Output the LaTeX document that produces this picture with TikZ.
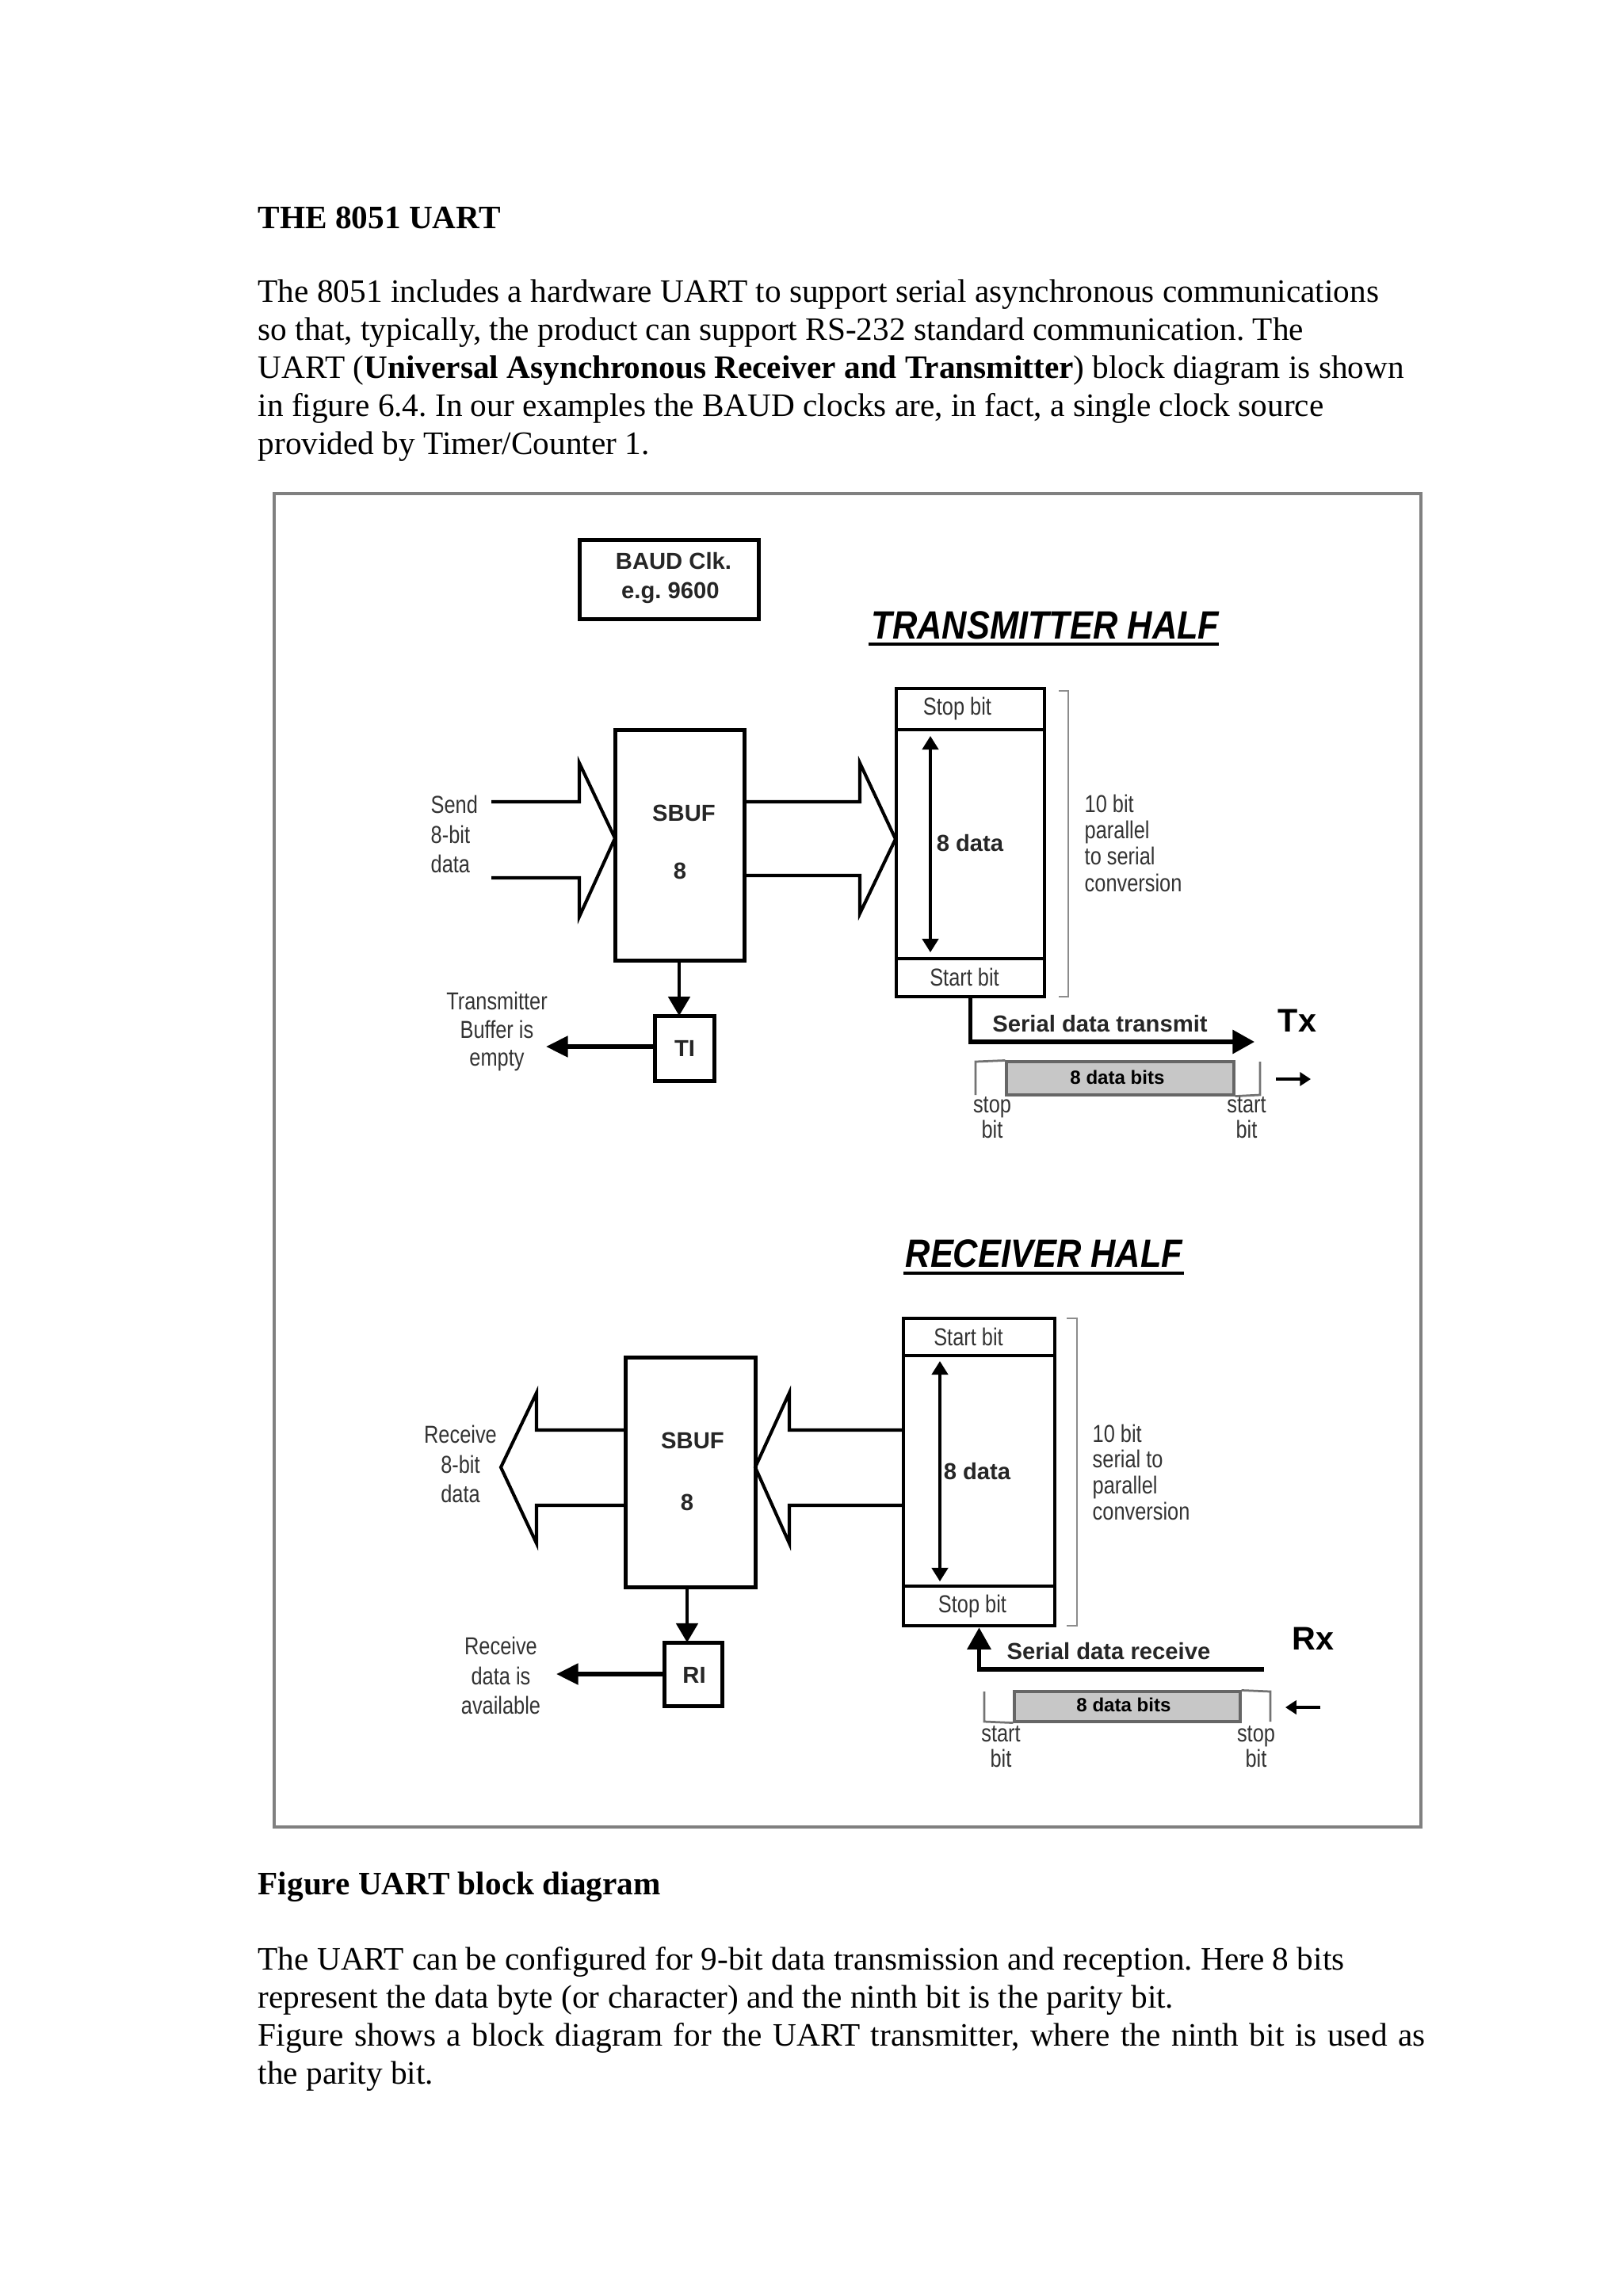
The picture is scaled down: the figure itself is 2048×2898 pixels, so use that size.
\documentclass[tikz,border=0pt]{standalone}
\usepackage{fontspec}
\setmainfont{Liberation Serif}
\newfontfamily\lblfont[FakeStretch=0.82]{Liberation Sans}
\newfontfamily\boldfont{Liberation Sans}
\newfontfamily\titlefont[FakeStretch=0.87]{Liberation Sans}
\usetikzlibrary{arrows.meta,fit}
\frenchspacing
\begin{document}
\begin{tikzpicture}[x=0.2907pt,y=-0.2907pt,
  box/.style={draw,line width=1.45pt,inner sep=0pt},
  cell/.style={draw,line width=1.3pt,inner sep=0pt},
  lbl/.style={font=\lblfont\fontsize{9}{10.6}\selectfont,text=black!80,inner sep=0pt,align=center},
  blbl/.style={font=\boldfont\bfseries\fontsize{8.5}{10}\selectfont,text=black!85,inner sep=0pt},
  ttl/.style={font=\titlefont\bfseries\itshape\fontsize{14.5}{16}\selectfont,inner sep=0pt},
  body/.style={font=\fontsize{12}{14}\selectfont,anchor=base west,inner sep=0pt},
  fat/.style={draw,line width=1.2pt,line join=miter,miter limit=20},
  sig/.style={line width=1.5pt,-{Triangle[length=8pt,width=8.5pt]}},
  flag/.style={line width=1.6pt,-{Triangle[length=8pt,width=7.5pt]}},
  down/.style={line width=1.0pt,-{Triangle[length=7pt,width=8pt]}},
  dbl/.style={line width=0.9pt,{Triangle[length=5pt,width=6pt]}-{Triangle[length=5pt,width=6pt]}},
  small/.style={line width=0.9pt,-{Triangle[length=4pt,width=5pt]}},
  brk/.style={draw=black!45,line width=0.7pt},
  bar/.style={draw=black!60,fill=black!22,line width=0.9pt,inner sep=0pt},
  wave/.style={draw=black!55,line width=0.8pt},
]
\useasboundingbox (0,0) rectangle (2048,2898);

% ---------- text above ----------
\node[body,font=\bfseries\fontsize{12}{14}\selectfont] (h1) at (325,288) {THE 8051 UART};
\node[body] (p1) at (325,381) {The 8051 includes a hardware UART to support serial asynchronous communications};
\node[body] (p2) at (325,429) {so that, typically, the product can support RS-232 standard communication. The};
\node[body] (p3) at (325,477) {UART (\textbf{Universal Asynchronous Receiver and Transmitter}) block diagram is shown};
\node[body] (p4) at (325,525) {in figure 6.4. In our examples the BAUD clocks are, in fact, a single clock source};
\node[body] (p5) at (325,573) {provided by Timer/Counter 1.};

% ---------- figure frame ----------
\node[draw=black!50,line width=1.3pt,inner sep=0pt,fit={(346,623)(1793,2306)}] (frame) {};

% ---------- BAUD clock ----------
\node[box,fit={(731,681)(957,781)}] (baud) {};
\node[blbl] (baudA) at (850,708) {BAUD Clk.};
\node[blbl] (baudB) at (846,748) {e.g. 9600};

% ================= TRANSMITTER HALF =================
\node[ttl,anchor=west] (ttx) at (1099,789) {TRANSMITTER HALF};
\coordinate (ut1) at (1096,813); \coordinate (ut2) at (1538,813);
\draw[line width=1.3pt] (ut1) -- (ut2);

% shift register
\node[cell,fit={(1131,869)(1318,921)}] (stopT) {};
\node[cell,fit={(1131,921)(1318,1210)}] (dataT) {};
\node[cell,fit={(1131,1210)(1318,1258)}] (startT) {};
\node[lbl] (stopTl) at (1208,894) {Stop bit};
\node[lbl] (startTl) at (1217,1233) {Start bit};
\coordinate (dTa) at (1174,929); \coordinate (dTb) at (1174,1202);
\draw[dbl] (dTa) -- (dTb);
\node[blbl] (dataTl) at (1224,1064) {8 data};
\coordinate (bTa) at (1336,872); \coordinate (bTb) at (1336,1258);
\draw[brk] (bTa) -- ++(12,0) |- (bTb);
\node[lbl,align=left,anchor=west,font=\lblfont\fontsize{9}{9.7}\selectfont] (convT) at (1368,1064) {10 bit\\parallel\\to serial\\conversion};

% SBUF
\node[box,fit={(776,921)(939,1212)}] (sbufT) {};
\node[blbl] (sbufTl) at (863,1026) {SBUF};
\node[blbl] (sbufTn) at (858,1099) {8};

% fat arrows
\draw[fat] (620,1012) -- (731,1012) -- (731,963) -- (776,1058) -- (731,1157) -- (731,1108) -- (620,1108);
\draw[fat] (939,1012) -- (1085,1012) -- (1085,963) -- (1130,1059) -- (1085,1153) -- (1085,1105) -- (939,1105);
\node[lbl,align=left,anchor=west,font=\lblfont\fontsize{9}{11}\selectfont] (sendl) at (543,1053) {Send\\8-bit\\data};

% TI
\node[box,fit={(826,1282)(901,1364)}] (tiT) {};
\node[blbl] (tiTl) at (864,1323) {TI};
\draw[down] (sbufT.south -| 857,0) -- (857,1282);
\coordinate (tiend) at (689,1321);
\draw[flag] (tiT.west |- tiend) -- (tiend);
\node[lbl,font=\lblfont\fontsize{9}{10.4}\selectfont] (til) at (627,1302) {Transmitter\\Buffer is\\empty};

% serial transmit
\coordinate (txend) at (1583,1315);
\draw[sig] (startT.south) |- (txend);
\node[blbl] (txl) at (1388,1292) {Serial data transmit};
\node[font=\boldfont\bfseries\fontsize{12}{14}\selectfont,inner sep=0pt] (tx) at (1637,1288) {Tx};

% bit frame
\node[bar,fit={(1270,1340)(1557,1382)}] (barT) {};
\node[font=\boldfont\bfseries\fontsize{7}{8}\selectfont,inner sep=0pt] (barTl) at (1410,1360) {8 data bits};
\draw[wave] (barT.north west) -- (1231,1340) -- (1231,1382);
\draw[wave] (barT.south east) -- (1590,1382) -- (1590,1340);
\node[lbl,font=\lblfont\fontsize{9}{9.3}\selectfont] (stopTb) at (1252,1411) {stop\\bit};
\node[lbl,font=\lblfont\fontsize{9}{9.3}\selectfont] (startTb) at (1573,1411) {start\\bit};
\coordinate (saT) at (1610,1362); \coordinate (sbT) at (1654,1362);
\draw[small] (saT) -- (sbT);

% ================= RECEIVER HALF =================
\node[ttl,anchor=west] (trx) at (1142,1582) {RECEIVER HALF};
\coordinate (ur1) at (1140,1607); \coordinate (ur2) at (1494,1607);
\draw[line width=1.3pt] (ur1) -- (ur2);

% shift register
\node[cell,fit={(1140,1664)(1331,1711)}] (startR) {};
\node[cell,fit={(1140,1711)(1331,2002)}] (dataR) {};
\node[cell,fit={(1140,2002)(1331,2052)}] (stopR) {};
\node[lbl] (startRl) at (1222,1687) {Start bit};
\node[lbl] (stopRl) at (1227,2027) {Stop bit};
\coordinate (dRa) at (1186,1718); \coordinate (dRb) at (1186,1996);
\draw[dbl] (dRa) -- (dRb);
\node[blbl] (dataRl) at (1233,1857) {8 data};
\coordinate (bRa) at (1346,1664); \coordinate (bRb) at (1346,2052);
\draw[brk] (bRa) -- ++(13,0) |- (bRb);
\node[lbl,align=left,anchor=west,font=\lblfont\fontsize{9}{9.5}\selectfont] (convR) at (1378,1858) {10 bit\\serial to\\parallel\\conversion};

% SBUF
\node[box,fit={(789,1713)(953,2003)}] (sbufR) {};
\node[blbl] (sbufRl) at (874,1818) {SBUF};
\node[blbl] (sbufRn) at (867,1896) {8};

% fat arrows
\draw[fat] (1140,1805) -- (996,1805) -- (996,1758) -- (953,1852) -- (996,1948) -- (996,1900) -- (1140,1900);
\draw[fat] (789,1805) -- (677,1805) -- (677,1758) -- (632,1852) -- (677,1948) -- (677,1900) -- (789,1900);
\node[lbl,font=\lblfont\fontsize{9}{10.8}\selectfont] (recvl) at (581,1848) {Receive\\8-bit\\data};

% RI
\node[box,fit={(838,2073)(911,2153)}] (riR) {};
\node[blbl] (riRl) at (876,2114) {RI};
\draw[down] (sbufR.south -| 867,0) -- (867,2073);
\coordinate (riend) at (702,2113);
\draw[flag] (riR.west |- riend) -- (riend);
\node[lbl,font=\lblfont\fontsize{9}{10.8}\selectfont] (ril) at (632,2115) {Receive\\data is\\available};

% serial receive
\coordinate (rxstart) at (1595,2107);
\draw[sig] (rxstart) -| (stopR.south);
\node[blbl] (rxl) at (1399,2084) {Serial data receive};
\node[font=\boldfont\bfseries\fontsize{12}{14}\selectfont,inner sep=0pt] (rx) at (1657,2068) {Rx};

% bit frame
\node[bar,fit={(1280,2135)(1565,2173)}] (barR) {};
\node[font=\boldfont\bfseries\fontsize{7}{8}\selectfont,inner sep=0pt] (barRl) at (1418,2152) {8 data bits};
\draw[wave] (barR.south west) -- (1242,2173) -- (1242,2135);
\draw[wave] (barR.north east) -- (1603,2135) -- (1603,2173);
\node[lbl,font=\lblfont\fontsize{9}{9.3}\selectfont] (startRb) at (1263,2205) {start\\bit};
\node[lbl,font=\lblfont\fontsize{9}{9.3}\selectfont] (stopRb) at (1585,2205) {stop\\bit};
\coordinate (saR) at (1666,2155); \coordinate (sbR) at (1622,2155);
\draw[small] (saR) -- (sbR);

% ---------- text below ----------
\node[body,font=\bfseries\fontsize{12}{14}\selectfont] (cap) at (325,2391) {Figure UART block diagram};
\node[body] (q1) at (325,2486) {The UART can be configured for 9-bit data transmission and reception. Here 8 bits};
\node[body] (q2) at (325,2534) {represent the data byte (or character) and the ninth bit is the parity bit.};
\node[body] (q3) at (325,2582) {\makebox[428.2pt][s]{Figure shows a block diagram for the UART transmitter, where the ninth bit is used as}};
\node[body] (q4) at (325,2630) {the parity bit.};
\end{tikzpicture}
\end{document}
